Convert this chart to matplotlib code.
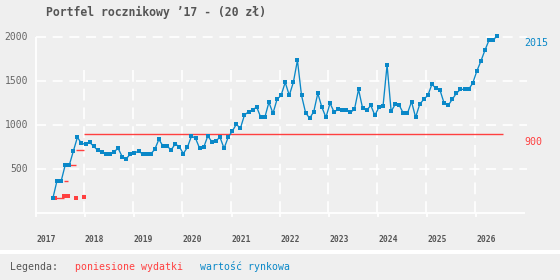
import numpy as np
import matplotlib
matplotlib.use("Agg")
import matplotlib.pyplot as plt

plt.rcParams['lines.scale_dashes'] = False

# ---------------- data ----------------
title = "Portfel rocznikowy \u201917 - (20 z\u0142)"
start_year = 2017
start_month_offset = 4.4  # first observation (months after Jan 2017)
market_value = [
    170, 367, 360, 542, 542, 701, 860, 792, 780, 803, 758, 712, 690, 667,
    670, 697, 735, 640, 617, 670, 678, 705, 670, 670, 670, 724, 837, 761,
    761, 716, 784, 754, 675, 746, 875, 848, 735, 746, 875, 810, 822, 860,
    735, 860, 928, 1008, 962, 1113, 1151, 1170, 1205, 1087, 1087, 1258, 1133,
    1292, 1337, 1485, 1337, 1485, 1735, 1337, 1140, 1076, 1151, 1360, 1201,
    1087, 1247, 1148, 1178, 1167, 1167, 1144, 1178, 1405, 1189, 1167, 1223,
    1110, 1201, 1212, 1682, 1155, 1235, 1223, 1133, 1133, 1265, 1087, 1235,
    1292, 1337, 1462, 1417, 1394, 1247, 1223, 1292, 1360, 1405, 1405, 1405,
    1473, 1610, 1723, 1848, 1962, 1962, 2015,
]
purchase_dates = [2017.40, 2017.595, 2017.68, 2017.845, 2018.0]
purchase_amounts = [170, 190, 190, 170, 180]
spend_end = 2026.57
year_ticks = list(range(2017, 2027))
y_ticks = [500, 1000, 1500, 2000]
legend_title = "Legenda:"
legend_spend = "poniesione wydatki"
legend_value = "warto\u015b\u0107 rynkowa"

BLUE = '#0a88c8'
RED = '#ff4040'
BG = '#efefef'
GRAY = '#555555'
MONO = 'DejaVu Sans Mono'

W, H = 560, 280
fig = plt.figure(figsize=(W / 100, H / 100), dpi=100, facecolor=BG)

def px(x, y):
    return x / W, 1 - y / H

# axes: x 2017..2027 -> px 35..524 ; y 0..2100 -> px 213..28.2
ax_l, ax_r = 35, 524
ax_b = 213
ax_t = 213 - 2100 * (176 / 2000)
ax = fig.add_axes([ax_l / W, 1 - ax_b / H, (ax_r - ax_l) / W, (ax_b - ax_t) / H])
ax.set_facecolor(BG)
ax.set_xlim(2017, 2027)
ax.set_ylim(0, 2100)
for s in ax.spines.values():
    s.set_visible(False)
ax.set_xticks([])
ax.set_yticks([])

# grid
for v in y_ticks:
    ax.hlines(v, 2017.03, 2027.06, colors='white', lw=1.2, linestyles=(0, (7.2, 4.8)), clip_on=False, zorder=1)
for yr in year_ticks[1:]:
    ax.vlines(yr, 0, 1705, colors='white', lw=1.2, linestyles=(0, (8.5, 5)), zorder=1)
# spines (white, solid)
ax.vlines(2017.02, -15, 2000, colors='white', lw=1.3, clip_on=False, zorder=1)
ax.hlines(-5, 2017.0, 2027.02, colors='white', lw=1.3, clip_on=False, zorder=1)
for yr in year_ticks:
    ax.vlines(yr + 0.02, -5, -45, colors='white', lw=1.3, clip_on=False, zorder=1)

# blue market value
n = len(market_value)
xs = start_year + (start_month_offset + np.arange(n)) / 12.0
ax.plot(xs, market_value, color=BLUE, lw=0.95, marker='s', ms=2.7, mew=0, mfc=BLUE,
        zorder=4, clip_on=False)

# red spending: steps (horizontal parts only) + markers of each purchase
cum = np.cumsum(purchase_amounts)
ends = purchase_dates[1:] + [spend_end]
ax.hlines(cum, purchase_dates, ends, colors=RED, lw=1.0, zorder=3, clip_on=False)
ax.plot(purchase_dates, purchase_amounts, ls='none', marker='s', ms=2.9, mew=0, color=RED, zorder=3)

# end labels
ax.annotate(f"{market_value[-1]}", xy=(2027, market_value[-1]), xytext=(0, -2),
            textcoords='offset points', ha='left', va='top', color=BLUE,
            family=MONO, fontsize=7.2, annotation_clip=False)
ax.annotate(f"{cum[-1]}", xy=(2027, cum[-1]), xytext=(0, -2),
            textcoords='offset points', ha='left', va='top', color=RED,
            family=MONO, fontsize=7.2, annotation_clip=False)

# y tick labels
for v in y_ticks:
    ax.annotate(f"{v}", xy=(2017, v), xytext=(-7, 0), textcoords='offset pixels',
                ha='right', va='center', color='#666666', family=MONO, fontsize=7,
                annotation_clip=False)
# x tick labels
for yr in year_ticks:
    ax.annotate(f"{yr}", xy=(yr, 0), xytext=(1, -26), textcoords='offset pixels',
                ha='left', va='center', color=GRAY, family=MONO, fontsize=5.8,
                fontweight='bold', annotation_clip=False)

# title
fig.text(*px(46, 12), title, ha='left', va='center', color=GRAY, family=MONO,
         fontsize=8.3, fontweight='bold')

# legend band
fig.add_artist(plt.Rectangle(px(0, 254), 1, 4 / H, transform=fig.transFigure,
                             facecolor='white', edgecolor='none'))
fig.text(*px(10, 267), legend_title, ha='left', va='center', color=GRAY, family=MONO, fontsize=7.1)
fig.text(*px(75, 267), legend_spend, ha='left', va='center', color=RED, family=MONO, fontsize=7.1)
fig.text(*px(200, 267), legend_value, ha='left', va='center', color=BLUE, family=MONO, fontsize=7.1)

fig.savefig('out.png', dpi=100, facecolor=BG)
